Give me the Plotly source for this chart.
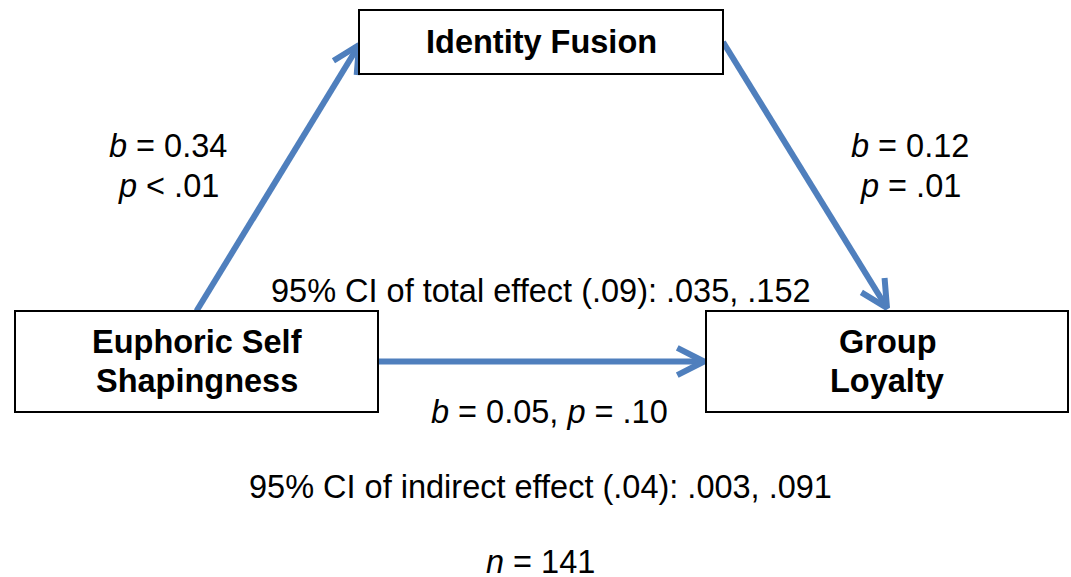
import math
import plotly.graph_objects as go

# ---- content ----
node_names = ["Euphoric Self<br>Shapingness", "Identity Fusion", "Group<br>Loyalty"]
path_a = ["<i>b</i> = 0.34", "<i>p</i> < .01"]
path_b = ["<i>b</i> = 0.12", "<i>p</i> = .01"]
path_c = "<i>b</i> = 0.05, <i>p</i> = .10"
total_ci = "95% CI of total effect (.09): .035, .152"
indirect_ci = "95% CI of indirect effect (.04): .003, .091"
sample = "<i>n</i> = 141"

# ---- layout (pixel space) ----
W, H = 1071, 577
boxes = {  # x0, y0, x1, y1
    "X": (15, 311, 378, 412),
    "M": (359, 10, 723, 74),
    "Y": (706, 311, 1068, 412),
}
BLUE = "#4F7FBD"
FONT = "Liberation Sans, Arial, sans-serif"
FS = 32.5
LW = 6

fig = go.Figure()

def center(b):
    return ((b[0] + b[2]) / 2, (b[1] + b[3]) / 2)

def arrow(p0, p1, head=30, ang=27):
    fig.add_trace(go.Scatter(x=[p0[0], p1[0]], y=[p0[1], p1[1]], mode="lines",
                             line=dict(color=BLUE, width=LW), hoverinfo="skip", showlegend=False))
    dx, dy = p0[0] - p1[0], p0[1] - p1[1]
    L = math.hypot(dx, dy)
    ux, uy = dx / L, dy / L
    pts = []
    for s in (1, -1):
        a = math.radians(ang * s)
        rx = ux * math.cos(a) - uy * math.sin(a)
        ry = ux * math.sin(a) + uy * math.cos(a)
        pts.append((p1[0] + rx * head, p1[1] + ry * head))
    fig.add_trace(go.Scatter(x=[pts[0][0], p1[0], pts[1][0]], y=[pts[0][1], p1[1], pts[1][1]],
                             mode="lines", line=dict(color=BLUE, width=LW),
                             hoverinfo="skip", showlegend=False))

bX, bM, bY = boxes["X"], boxes["M"], boxes["Y"]
cX, cM, cY = center(bX), center(bM), center(bY)
arrow((cX[0], bX[1]), (bM[0], cM[1] + 3))
arrow((bM[2], cM[1]), (cY[0], bY[1] - 3))
arrow((bX[2], cX[1]), (bY[0] - 2, cY[1]))

for key, name in zip(["X", "M", "Y"], node_names):
    b = boxes[key]
    fig.add_shape(type="rect", x0=b[0], y0=b[1], x1=b[2], y1=b[3],
                  line=dict(color="black", width=2), fillcolor="white", layer="above")
    lines = name.split("<br>")
    c = center(b)
    for i, t in enumerate(lines):
        off = (i - (len(lines) - 1) / 2) * 39
        fig.add_annotation(x=c[0], y=c[1] + off, text=f"<b>{t}</b>", showarrow=False,
                           font=dict(family=FONT, size=FS, color="black"))

def label(x, y, t):
    fig.add_annotation(x=x, y=y, text=t, showarrow=False,
                       font=dict(family=FONT, size=FS, color="black"))

for i, t in enumerate(path_a):
    label(168, 146 + 40 * i, t)
for i, t in enumerate(path_b):
    label(910, 146 + 40 * i, t)
label(541, 291, total_ci)
label(549, 412, path_c)
label(540, 487, indirect_ci)
label(540, 562, sample)

fig.update_layout(
    width=W, height=H, margin=dict(l=0, r=0, t=0, b=0),
    paper_bgcolor="white", plot_bgcolor="white",
    xaxis=dict(range=[0, W], visible=False, fixedrange=True),
    yaxis=dict(range=[H, 0], visible=False, fixedrange=True),
    showlegend=False,
)
fig.write_html("out.html", config={"displayModeBar": False},
               post_script="document.body.style.margin='0';document.body.style.overflow='hidden';")
